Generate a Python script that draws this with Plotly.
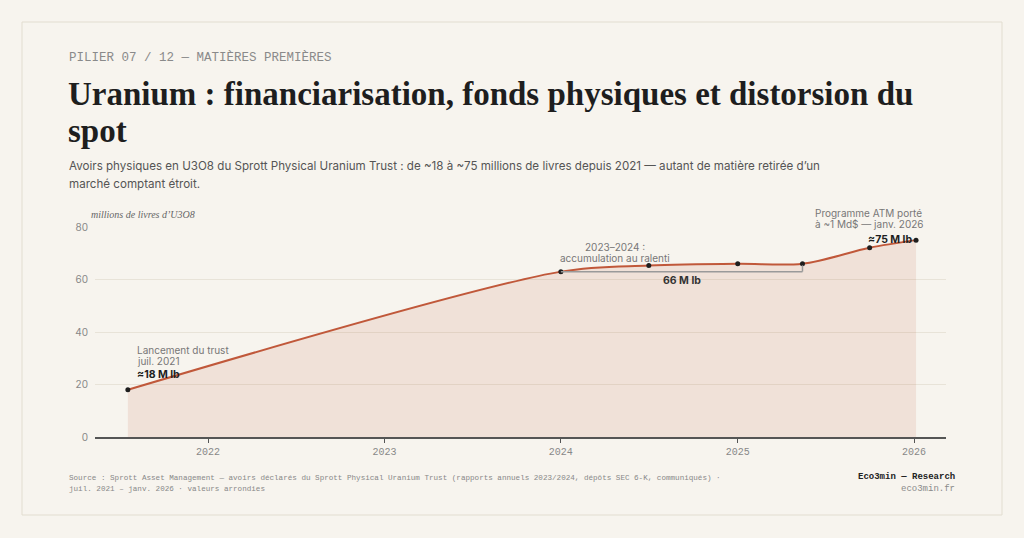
import plotly.graph_objects as go

# ===============================
# DATA
# ===============================
dates = ["2021-07-19", "2024-01-01", "2024-07-01", "2025-01-01",
         "2025-05-15", "2025-10-01", "2026-01-05"]
holdings_mlb = [18, 63, 65.3, 66, 66, 72.1, 75]

x_ticks = ["2022-01-01", "2023-01-01", "2024-01-01", "2025-01-01", "2026-01-01"]
x_tick_labels = ["2022", "2023", "2024", "2025", "2026"]
y_ticks = [0, 20, 40, 60, 80]

bracket_start = "2024-01-01"
bracket_end = "2025-05-15"
bracket_mid = "2024-09-07"
bracket_label = "66 M lb"

# ===============================
# STYLE
# ===============================
BG = "#f7f4ee"
BORDER = "#e2ddd0"
LINE = "#c0583a"
FILL = "rgba(192,88,58,0.12)"
GRID = "#e8e3d8"
AXIS = "#555555"
MUTED = "#777777"
DARK = "#1e1e1e"

SANS = "Inter, Noto Sans, sans-serif"
SERIF = "Liberation Serif, DejaVu Serif, serif"
MONO = "Liberation Mono, DejaVu Sans Mono, monospace"

# plot area in pixels (1024 x 538 page)
L, R, T, B = 95, 946, 227, 437


def px(x):
    return (x - L) / (R - L)


def py(y):
    return (B - y) / (B - T)


fig = go.Figure()

fig.add_trace(go.Scatter(
    x=dates,
    y=holdings_mlb,
    mode="lines+markers",
    line=dict(color=LINE, width=2, shape="spline", smoothing=0.9),
    marker=dict(color=DARK, size=5),
    fill="tozeroy",
    fillcolor=FILL,
    hoverinfo="x+y",
    showlegend=False,
))

# bracket 2024-01 -> 2025-05
fig.add_shape(type="line", xref="x", yref="y",
              x0=bracket_start, x1=bracket_end, y0=holdings_mlb[1], y1=holdings_mlb[1],
              line=dict(color="#9a9a9a", width=1.5))
fig.add_shape(type="line", xref="x", yref="y",
              x0=bracket_end, x1=bracket_end, y0=holdings_mlb[1], y1=holdings_mlb[4] - 0.6,
              line=dict(color="#9a9a9a", width=1.5))

# card border
fig.add_shape(type="rect", xref="paper", yref="paper",
              x0=px(22), x1=px(1002), y0=py(515), y1=py(22),
              line=dict(color=BORDER, width=1), fillcolor="rgba(0,0,0,0)", layer="below")

annotations = []


def note(text, x, y, size, color, family, xanchor="left", weight="normal", style="normal",
         xref="paper", yref="paper", xshift=0, yshift=0):
    annotations.append(dict(
        text=text, x=x, y=y, xref=xref, yref=yref, xanchor=xanchor, yanchor="middle",
        showarrow=False, xshift=xshift, yshift=yshift,
        font=dict(size=size, color=color, family=family, weight=weight, style=style),
    ))


# header
note("PILIER 07 / 12 — MATIÈRES PREMIÈRES", px(67), py(57), 12.5, "#8a8a8a", MONO)
note("Uranium : financiarisation, fonds physiques et distorsion du", px(66), py(94), 33, DARK, SERIF,
     weight="bold")
note("spot", px(66), py(131), 33, DARK, SERIF, weight="bold")
note("Avoirs physiques en U3O8 du Sprott Physical Uranium Trust : de ~18 à ~75 millions de livres "
     "depuis 2021 — autant de matière retirée d’un", px(67), py(166), 11.6, "#555555", SANS)
note("marché comptant étroit.", px(67), py(184), 11.6, "#555555", SANS)

# axis title
note("millions de livres d’U3O8", px(89), py(214), 10, "#666666", SERIF, style="italic")

# point annotations
note("Lancement du trust", dates[0], holdings_mlb[0], 10, MUTED, SANS,
     xref="x", yref="y", xshift=7, yshift=40)
note("juil. 2021", dates[0], holdings_mlb[0], 10, MUTED, SANS,
     xref="x", yref="y", xshift=7, yshift=29)
note("≈18 M lb", dates[0], holdings_mlb[0], 10.5, DARK, SANS, weight="bold",
     xref="x", yref="y", xshift=7, yshift=15)

note("2023–2024 :", px(615), py(246.5), 10, MUTED, SANS, xanchor="center")
note("accumulation au ralenti", px(615), py(257.5), 10, MUTED, SANS, xanchor="center")
note(bracket_label, bracket_mid, holdings_mlb[1], 10.5, "#333333", SANS, weight="bold",
     xanchor="center", xref="x", yref="y", yshift=-9)

note("Programme ATM porté", px(813), py(213), 10, MUTED, SANS)
note("à ~1 Md$ — janv. 2026", px(813), py(223.5), 10, MUTED, SANS)
note("≈75 M lb", dates[-1], holdings_mlb[-1], 10.5, DARK, SANS, weight="bold",
     xanchor="right", xref="x", yref="y", xshift=-2, yshift=1)

# footer
note("Source : Sprott Asset Management — avoirs déclarés du Sprott Physical Uranium Trust "
     "(rapports annuels 2023/2024, dépôts SEC 6-K, communiqués) ·", px(67), py(478), 7.6, "#888888", MONO)
note("juil. 2021 – janv. 2026 · valeurs arrondies", px(67), py(488.5), 7.6, "#888888", MONO)
note("Eco3min — Research", px(957), py(477), 9, "#222222", MONO, xanchor="right", weight="bold")
note("eco3min.fr", px(957), py(488.5), 9, "#8a8a8a", MONO, xanchor="right")

fig.update_layout(
    width=1024,
    height=538,
    paper_bgcolor=BG,
    plot_bgcolor=BG,
    margin=dict(l=L, r=1024 - R, t=T, b=538 - B, pad=0),
    annotations=annotations,
    xaxis=dict(
        type="date",
        range=["2021-05-12", "2026-03-08"],
        tickvals=x_ticks,
        ticktext=x_tick_labels,
        ticks="outside",
        ticklen=4,
        tickcolor=AXIS,
        tickfont=dict(family=MONO, size=10, color="#888888"),
        showgrid=False,
        showline=True,
        linecolor=AXIS,
        linewidth=1.5,
        zeroline=False,
        fixedrange=True,
    ),
    yaxis=dict(
        range=[0, 80],
        tickvals=y_ticks,
        tickfont=dict(family=SANS, size=10, color="#888888"),
        showgrid=True,
        gridcolor=GRID,
        gridwidth=1,
        zeroline=False,
        showline=False,
        ticks="",
        ticklabelstandoff=6,
        fixedrange=True,
    ),
    hovermode="closest",
)

# drop the browser's default 8px body margin so the figure sits flush in the window
fig.write_html("out.html", config={"displayModeBar": False},
               post_script="document.body.style.margin = '0';")
